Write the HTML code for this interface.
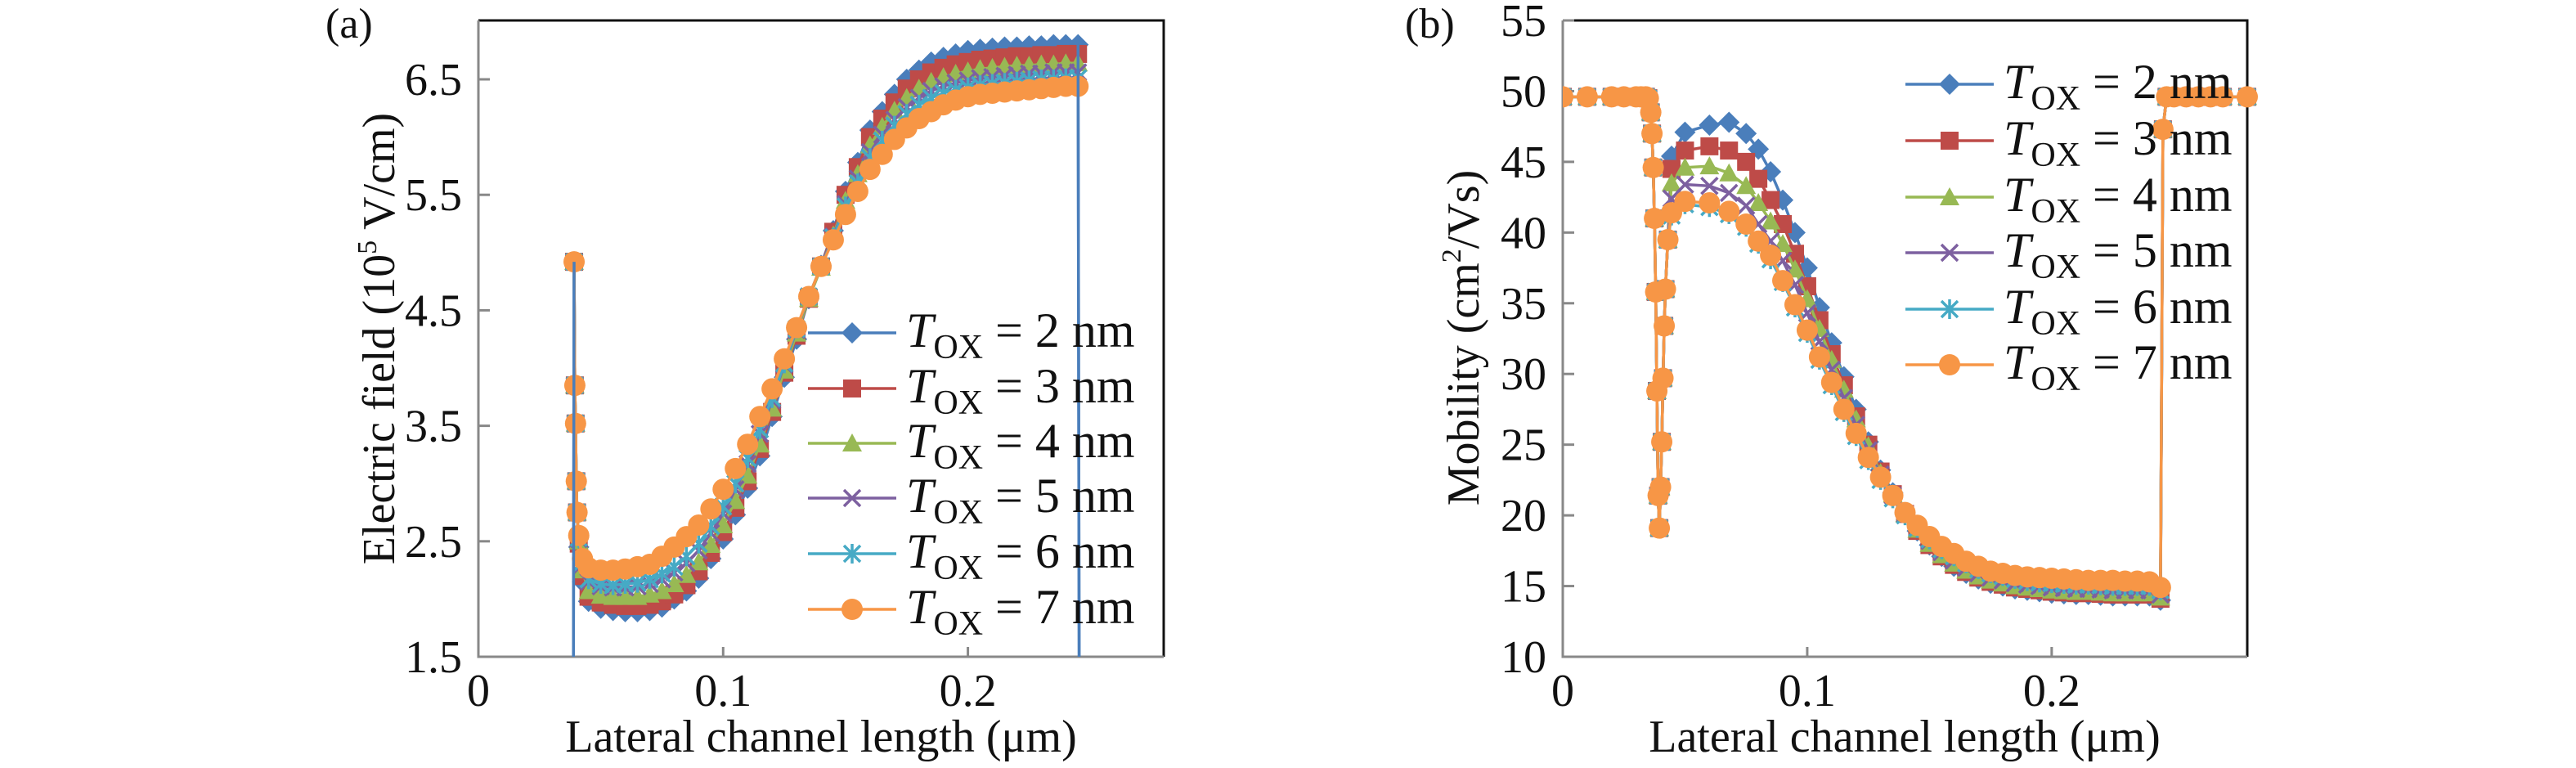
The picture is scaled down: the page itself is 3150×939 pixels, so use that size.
<!DOCTYPE html>
<html><head><meta charset="utf-8"><style>
html,body{margin:0;padding:0;background:#fff;}
svg{display:block;}
text{font-family:"Liberation Serif","DejaVu Serif",serif;}
</style></head><body>
<svg id="fig" width="3150" height="939" viewBox="0 0 3150 939" xmlns="http://www.w3.org/2000/svg" font-family="Liberation Serif, DejaVu Serif, serif">
<defs>
<clipPath id="clipA"><rect x="585" y="25" width="838" height="778"/></clipPath>
<clipPath id="clipB"><rect x="1911" y="20" width="860" height="783"/></clipPath>
</defs>
</svg>
<script>
const seriesNames = ["2 nm","3 nm","4 nm","5 nm","6 nm","7 nm"];
const seriesColors = ["#4a7ebb","#be4b48","#98b954","#7d60a0","#46aac5","#f79646"];
const seriesMarkers = ["diamond","square","triangle","x","star","circle"];

// ===== Chart (a): Electric field =====
const aXEarly = [0.0388,0.0391,0.0394,0.0397,0.0400,0.0403];
const aYEarly = [1.0,4.92,3.85,3.52,3.02,2.75];
const aXMid = [0.041,0.0425,0.045,0.05,0.055,0.06,0.065,0.07,0.075,0.08,0.085,0.09,0.095,0.1,0.105,0.11,0.115,0.12,0.125,0.13,0.135,0.14,0.145,0.15,0.155,0.16,0.165,0.17,0.175,0.18,0.185,0.19,0.195,0.2,0.205,0.21,0.215,0.22,0.225,0.23,0.235,0.24,0.245];
const aXLate = [0.2455];
const aYLate = [1.0];
const aY2 = [2.45,2.15,1.98,1.92,1.90,1.89,1.89,1.90,1.93,2.0,2.07,2.18,2.35,2.52,2.73,2.96,3.24,3.58,3.92,4.25,4.6,4.89,5.19,5.53,5.78,6.06,6.22,6.37,6.5,6.58,6.65,6.69,6.72,6.75,6.76,6.77,6.78,6.78,6.79,6.79,6.8,6.8,6.8];
const aY3 = [2.48,2.2,2.02,1.97,1.95,1.94,1.94,1.95,1.98,2.04,2.12,2.24,2.4,2.58,2.79,3.02,3.3,3.62,3.96,4.28,4.6,4.88,5.18,5.5,5.74,6.0,6.16,6.3,6.42,6.5,6.56,6.6,6.63,6.65,6.67,6.68,6.69,6.7,6.7,6.71,6.71,6.72,6.72];
const aY4 = [2.5,2.25,2.07,2.03,2.02,2.02,2.02,2.04,2.07,2.13,2.21,2.32,2.47,2.64,2.85,3.07,3.34,3.65,3.98,4.3,4.6,4.87,5.15,5.45,5.68,5.93,6.09,6.23,6.34,6.42,6.48,6.52,6.55,6.57,6.59,6.6,6.61,6.62,6.62,6.63,6.63,6.64,6.64];
const aY5 = [2.52,2.3,2.15,2.11,2.1,2.1,2.11,2.13,2.17,2.23,2.31,2.42,2.57,2.74,2.95,3.17,3.43,3.72,4.03,4.33,4.62,4.88,5.14,5.42,5.64,5.87,6.02,6.15,6.26,6.34,6.4,6.44,6.47,6.49,6.51,6.52,6.53,6.54,6.55,6.55,6.56,6.56,6.56];
const aY6 = [2.53,2.32,2.17,2.13,2.12,2.13,2.14,2.17,2.22,2.28,2.37,2.48,2.63,2.8,3.0,3.22,3.47,3.74,4.04,4.34,4.62,4.88,5.13,5.4,5.6,5.82,5.97,6.1,6.2,6.28,6.34,6.38,6.41,6.43,6.45,6.46,6.47,6.48,6.49,6.5,6.5,6.51,6.51];
const aY7 = [2.55,2.35,2.27,2.25,2.25,2.26,2.28,2.30,2.37,2.45,2.54,2.64,2.78,2.95,3.13,3.34,3.58,3.82,4.08,4.35,4.62,4.88,5.11,5.33,5.53,5.72,5.85,5.98,6.08,6.16,6.22,6.28,6.32,6.35,6.37,6.38,6.39,6.4,6.41,6.42,6.43,6.44,6.44];
const aYTicks = [1.5,2.5,3.5,4.5,5.5,6.5];
const aYTickLabels = ["1.5","2.5","3.5","4.5","5.5","6.5"];
const aXTicks = [0,0.1,0.2];
const aXTickLabels = ["0","0.1","0.2"];

// ===== Chart (b): Mobility =====
const bXEarly = [0,0.01,0.02,0.025,0.03,0.032,0.034,0.035,0.036,0.0365,0.037,0.0375,0.038,0.0385,0.039,0.0395,0.040,0.0405,0.041,0.0415,0.042,0.043];
const bYEarly = [49.6,49.6,49.6,49.6,49.6,49.6,49.6,49.5,48.5,47.0,44.6,41.0,35.8,28.8,21.4,19.1,22.0,25.2,29.7,33.4,36.0,39.5];
const bXMid = [0.0445,0.05,0.06,0.068,0.075,0.08,0.085,0.09,0.095,0.1,0.105,0.11,0.115,0.12,0.125,0.13,0.135,0.14,0.145,0.15,0.155,0.16,0.165,0.17,0.175,0.18,0.185,0.19,0.195,0.2,0.205,0.21,0.215,0.22,0.225,0.23,0.235,0.24,0.2445];
const bXLate = [0.2455,0.247,0.25,0.255,0.26,0.265,0.27,0.28];
const bYLate = [47.3,49.6,49.6,49.6,49.6,49.6,49.6,49.6];
const bY2 = [45.4,47.1,47.6,47.8,47.0,45.9,44.3,42.3,40.0,37.5,34.7,32.2,29.8,27.5,25.2,23.2,21.6,20.1,18.9,17.9,17.1,16.4,15.9,15.5,15.2,15.0,14.8,14.7,14.6,14.5,14.45,14.4,14.4,14.35,14.3,14.3,14.3,14.3,14.0];
const bY3 = [44.5,45.8,46.1,45.8,45.0,43.8,42.3,40.6,38.5,36.2,33.8,31.4,29.2,27.0,25.0,23.1,21.5,20.1,18.9,17.9,17.1,16.5,16.0,15.6,15.3,15.1,14.9,14.8,14.7,14.6,14.55,14.5,14.5,14.45,14.4,14.4,14.4,14.4,14.1];
const bY4 = [43.5,44.6,44.7,44.2,43.3,42.1,40.8,39.2,37.4,35.3,33.2,31.0,28.9,26.8,24.9,23.0,21.5,20.1,19.0,18.0,17.2,16.6,16.1,15.7,15.4,15.2,15.0,14.9,14.8,14.7,14.65,14.6,14.6,14.55,14.5,14.5,14.5,14.5,14.2];
const bY5 = [42.4,43.4,43.3,42.8,41.9,40.6,39.4,38.0,36.3,34.3,32.3,30.3,28.3,26.4,24.6,22.9,21.4,20.1,19.1,18.2,17.4,16.8,16.3,15.9,15.6,15.4,15.2,15.1,15.0,14.9,14.85,14.8,14.8,14.75,14.7,14.7,14.7,14.7,14.4];
const bY6 = [41.2,42.0,41.8,41.3,40.4,39.2,38.1,36.5,34.7,32.9,31.0,29.2,27.3,25.6,23.9,22.5,21.2,20.0,19.1,18.3,17.6,17.1,16.6,16.2,15.9,15.7,15.5,15.35,15.25,15.2,15.15,15.1,15.1,15.05,15.0,15.0,15.0,15.0,14.7];
const bY7 = [41.4,42.2,42.1,41.5,40.6,39.4,38.4,36.6,34.9,33.1,31.2,29.4,27.5,25.8,24.1,22.7,21.4,20.2,19.3,18.5,17.8,17.3,16.75,16.4,16.05,15.9,15.75,15.65,15.6,15.55,15.5,15.45,15.4,15.4,15.4,15.35,15.35,15.3,14.9];
const bYTicks = [10,15,20,25,30,35,40,45,50,55];
const bYTickLabels = ["10","15","20","25","30","35","40","45","50","55"];
const bXTicks = [0,0.1,0.2];
const bXTickLabels = ["0","0.1","0.2"];

const NS = "http://www.w3.org/2000/svg";
const FONT = "Liberation Serif, DejaVu Serif, serif";
const svg = document.getElementById("fig");
function mk(tag, attrs, parent){
  const e = document.createElementNS(NS, tag);
  for (const k in attrs) e.setAttribute(k, attrs[k]);
  if (tag === "text") e.setAttribute("font-family", FONT);
  (parent||svg).appendChild(e);
  return e;
}
function marker(g, type, cx, cy, color){
  let m;
  const s = 13;
  if (type==="diamond") m = mk("polygon",{points:`${cx},${cy-s} ${cx+s},${cy} ${cx},${cy+s} ${cx-s},${cy}`,fill:color},g);
  else if (type==="square") m = mk("rect",{x:cx-11,y:cy-11,width:22,height:22,fill:color},g);
  else if (type==="triangle") m = mk("polygon",{points:`${cx},${cy-12} ${cx+12},${cy+10} ${cx-12},${cy+10}`,fill:color},g);
  else if (type==="circle") m = mk("circle",{cx:cx,cy:cy,r:13,fill:color},g);
  else if (type==="x") m = mk("path",{d:`M${cx-10},${cy-10}L${cx+10},${cy+10}M${cx-10},${cy+10}L${cx+10},${cy-10}`,stroke:color,"stroke-width":3.5,fill:"none"},g);
  else m = mk("path",{d:`M${cx-10},${cy-10}L${cx+10},${cy+10}M${cx-10},${cy+10}L${cx+10},${cy-10}M${cx},${cy-12}L${cx},${cy+12}`,stroke:color,"stroke-width":3.5,fill:"none"},g);
  return m;
}

function drawChart(cfg){
  const sx = v => cfg.x0 + (v - cfg.xmin) / (cfg.xmax - cfg.xmin) * (cfg.x1 - cfg.x0);
  const sy = v => cfg.y1 - (v - cfg.ymin) / (cfg.ymax - cfg.ymin) * (cfg.y1 - cfg.y0);
  const g = mk("g",{});
  
  
  const top = mk("path",{d:`M${cfg.x0},${cfg.y0}H${cfg.x1}V${cfg.y1}`,stroke:"#111",fill:"none","stroke-width":3},g);
  
  
  const axes = mk("path",{d:`M${cfg.x0},${cfg.y0}V${cfg.y1}H${cfg.x1}`,stroke:"#888",fill:"none","stroke-width":3},g);
  
  
  cfg.yTicks.forEach((t,i)=>{
    const y = sy(t);
    const tk = mk("line",{x1:cfg.x0,x2:cfg.x0+14,y1:y,y2:y,stroke:"#888","stroke-width":3},g);
    
    
    const tl = mk("text",{x:cfg.x0-20,y:y+19,"text-anchor":"end","font-size":56,fill:"#111"},g);
    tl.textContent = cfg.yTickLabels[i];
    
    
  });
  cfg.xTicks.forEach((t,i)=>{
    const x = sx(t);
    if (t>cfg.xmin){
      const tk = mk("line",{x1:x,x2:x,y1:cfg.y1,y2:cfg.y1-12,stroke:"#888","stroke-width":3},g);
      
      
    }
    const tl = mk("text",{x:x,y:cfg.y1+60,"text-anchor":"middle","font-size":56,fill:"#111"},g);
    tl.textContent = cfg.xTickLabels[i];
    
    
  });
  const sg = mk("g",{"clip-path":`url(#${cfg.clip})`},g);
  cfg.series.forEach((ys,si)=>{
    let xs = cfg.xEarly.concat(cfg.xMid.slice(0, ys.length)).concat(cfg.xLate);
    let vs = cfg.yEarly.concat(ys.slice(0, cfg.xMid.length)).concat(cfg.yLate);
    let n = Math.min(xs.length, vs.length);
    let start = 0, end = n;
    if (cfg.edgeOnlyFirst && si > 0){ start = 1; end = n - 1; }
    let d = "";
    for (let i=start;i<end;i++) d += (i>start?"L":"M") + sx(xs[i]).toFixed(1) + "," + sy(vs[i]).toFixed(1);
    const s = mk("g",{},sg);
    
    
    const ln = mk("path",{d:d,stroke:seriesColors[si],"stroke-width":3.5,fill:"none"},s);
    
    
    for (let i=start;i<end;i++){
      if (vs[i] < cfg.ymin) continue;
      const m = marker(s, seriesMarkers[si], sx(xs[i]), sy(vs[i]), seriesColors[si]);
      
      
    }
  });
  if (cfg.edgeOnlyFirst){
    // blue (first series) edge lines drawn on top as in reference
    const xs = cfg.xEarly.concat(cfg.xMid).concat(cfg.xLate);
    const vs = cfg.yEarly.concat(cfg.series[0]).concat(cfg.yLate);
    const n = Math.min(xs.length, vs.length);
    const e1 = mk("path",{d:`M${sx(xs[0])},${sy(vs[0])}L${sx(xs[1])},${sy(vs[1])}M${sx(xs[n-2])},${sy(vs[n-2])}L${sx(xs[n-1])},${sy(vs[n-1])}`,stroke:seriesColors[0],"stroke-width":3.5,fill:"none"},sg);
    
    
  }
  seriesNames.forEach((nm,i)=>{
    const y = cfg.legY[i];
    const lg = mk("g",{},g);
    
    
    mk("line",{x1:cfg.legX,x2:cfg.legX+108,y1:y,y2:y,stroke:seriesColors[i],"stroke-width":3.5},lg);
    marker(lg, seriesMarkers[i], cfg.legX+54, y, seriesColors[i]);
    const t = mk("text",{x:cfg.legX+120,y:y+17,"font-size":60,fill:"#111"},lg);
    const t1 = mk("tspan",{"font-style":"italic"},t); t1.textContent = "T";
    const t2 = mk("tspan",{"font-size":42,dy:14},t); t2.textContent = "OX";
    const t3 = mk("tspan",{dy:-14},t); t3.textContent = " = " + nm;
  });
  const xt = mk("text",{x:cfg.xTitleX,y:919,"text-anchor":"middle","font-size":56,fill:"#111"},g);
  xt.textContent = "Lateral channel length (μm)";
  
  
  const yt = mk("text",{x:0,y:0,"text-anchor":"middle","font-size":56,fill:"#111",transform:`translate(${cfg.yTitleX},${cfg.yTitleY}) rotate(-90)`},g);
  cfg.yTitle.forEach(p=>{ const ts = mk("tspan", p.a||{}, yt); ts.textContent = p.t; });
  
  
  const pl = mk("text",{x:cfg.panelX,y:46,"font-size":52,fill:"#111"},g);
  pl.textContent = cfg.panel;
  
  
}

drawChart({name:"electric-field-chart",x0:585,x1:1423,y0:25,y1:803,xmin:0,xmax:0.28,ymin:1.5,ymax:7.01,
  clip:"clipA",xEarly:aXEarly,yEarly:aYEarly,xMid:aXMid,xLate:aXLate,yLate:aYLate,edgeOnlyFirst:true,
  series:[aY2,aY3,aY4,aY5,aY6,aY7],yTicks:aYTicks,yTickLabels:aYTickLabels,xTicks:aXTicks,xTickLabels:aXTickLabels,
  legX:988,legY:[407,475,542,609,677,745],xTitleX:1004,yTitleX:482,yTitleY:414,panelX:398,panel:"(a)",
  yTitle:[{t:"Electric field (10"},{t:"5",a:{"font-size":34,dy:-22}},{t:" V/cm)",a:{dy:22}}]});
drawChart({name:"mobility-chart",x0:1911,x1:2748,y0:25,y1:803,xmin:0,xmax:0.28,ymin:10,ymax:55,
  clip:"clipB",xEarly:bXEarly,yEarly:bYEarly,xMid:bXMid,xLate:bXLate,yLate:bYLate,edgeOnlyFirst:false,
  series:[bY2,bY3,bY4,bY5,bY6,bY7],yTicks:bYTicks,yTickLabels:bYTickLabels,xTicks:bXTicks,xTickLabels:bXTickLabels,
  legX:2330,legY:[103,172,241,309,378,446],xTitleX:2329,yTitleX:1808,yTitleY:413,panelX:1718,panel:"(b)",
  yTitle:[{t:"Mobility (cm"},{t:"2",a:{"font-size":34,dy:-22}},{t:"/Vs)",a:{dy:22}}]});
</script>
</body></html>
